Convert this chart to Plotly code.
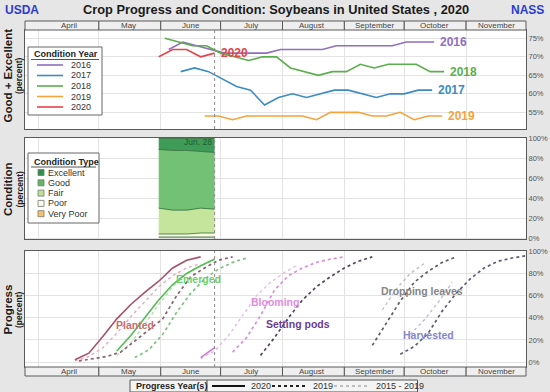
import datetime as _dt
import plotly.graph_objects as go

YEAR = 2020
FONT = "Liberation Sans, Arial, sans-serif"

# ---------------- DATA ----------------
# Condition: Good + Excellent (%)
cond_years = ["2016", "2017", "2018", "2019", "2020"]
cond_colors = ["#8f6fc0", "#3c8cc3", "#5bae4c", "#f5a33a", "#e6434a"]

ge2016_weeks = ["06-05", "06-12", "06-19", "06-26", "07-03", "07-10", "07-17", "07-24", "07-31", "08-07",
                "08-14", "08-21", "08-28", "09-04", "09-11", "09-18", "09-25", "10-02", "10-09", "10-16"]
ge2016 = [72, 74, 73, 72, 71, 71, 71, 71, 72, 72, 72, 72, 73, 73, 73, 73, 73, 74, 74, 74]

ge2017_weeks = ["06-11", "06-18", "06-25", "07-02", "07-09", "07-16", "07-23", "07-30", "08-06", "08-13",
                "08-20", "08-27", "09-03", "09-10", "09-17", "09-24", "10-01", "10-08", "10-15"]
ge2017 = [66, 67, 66, 64, 62, 61, 57, 59, 60, 59, 60, 61, 61, 60, 59, 60, 60, 61, 61]

ge2018_weeks = ["06-03", "06-10", "06-17", "06-24", "07-01", "07-08", "07-15", "07-22", "07-29", "08-05",
                "08-12", "08-19", "08-26", "09-02", "09-09", "09-16", "09-23", "09-30", "10-07", "10-14", "10-21"]
ge2018 = [75, 74, 73, 73, 71, 70, 69, 70, 70, 67, 66, 65, 66, 66, 68, 67, 68, 68, 68, 66, 66]

ge2019_weeks = ["06-23", "06-30", "07-07", "07-14", "07-21", "07-28", "08-04", "08-11", "08-18", "08-25",
                "09-01", "09-08", "09-15", "09-22", "09-29", "10-06", "10-13", "10-20"]
ge2019 = [54, 54, 53, 54, 54, 54, 54, 54, 53, 55, 55, 55, 54, 54, 55, 53, 54, 54]

ge2020_weeks = ["05-31", "06-07", "06-14", "06-21", "06-28"]
ge2020 = [70, 72, 72, 70, 71]

# Condition by type, 2020 (%)
ct_weeks = ["05-31", "06-07", "06-14", "06-21", "06-28"]
ct_names = ["Very Poor", "Poor", "Fair", "Good", "Excellent"]
ct_very_poor = [1, 1, 1, 1, 1]
ct_poor = [3, 3, 3, 4, 4]
ct_fair = [26, 24, 24, 25, 24]
ct_good = [59, 60, 60, 57, 57]
ct_excellent = [11, 12, 12, 13, 14]
ct_fill = ["#f4c36a", "#fbfbe3", "#c5e49c", "#72c174", "#3e9c58"]
ct_swatch = ["#f6c465", "#fafae6", "#bde192", "#62b862", "#2f8f4c"]

# Progress (% of crop) -- 2020 (solid)
planted20_weeks = ["04-19", "04-26", "05-03", "05-10", "05-17", "05-24", "05-31", "06-07", "06-14", "06-21"]
planted20 = [2, 8, 23, 39, 52, 63, 73, 85, 92, 95]
emerged20_weeks = ["05-10", "05-17", "05-24", "05-31", "06-07", "06-14", "06-21", "06-28"]
emerged20 = [10, 24, 40, 56, 70, 80, 87, 93]
bloom20_weeks = ["06-21", "06-28"]
bloom20 = [4, 13]

# Progress -- 2019 (dotted)
planted19_weeks = ["04-21", "04-28", "05-05", "05-12", "05-19", "05-26", "06-02", "06-09", "06-16", "06-23", "06-30", "07-07"]
planted19 = [1, 3, 5, 9, 19, 29, 39, 60, 77, 85, 92, 95]
emerged19_weeks = ["05-19", "05-26", "06-02", "06-09", "06-16", "06-23", "06-30", "07-07", "07-14"]
emerged19 = [4, 11, 25, 45, 62, 75, 84, 90, 94]
bloom19_weeks = ["07-07", "07-14", "07-21", "07-28", "08-04", "08-11", "08-18", "08-25", "09-01"]
bloom19 = [9, 22, 42, 65, 78, 85, 90, 93, 95]
pods19_weeks = ["07-21", "07-28", "08-04", "08-11", "08-18", "08-25", "09-01", "09-08", "09-15"]
pods19 = [6, 22, 40, 56, 68, 77, 85, 91, 95]
drop19_weeks = ["09-15", "09-22", "09-29", "10-06", "10-13", "10-20", "10-27"]
drop19 = [15, 35, 55, 72, 82, 90, 95]
harv19_weeks = ["09-29", "10-06", "10-13", "10-20", "10-27", "11-03", "11-10", "11-17", "11-24", "12-01"]
harv19 = [7, 14, 26, 46, 62, 75, 85, 91, 94, 96]

# Progress -- 2015-2019 average (thin)
plantedavg_weeks = ["04-19", "04-26", "05-03", "05-10", "05-17", "05-24", "05-31", "06-07", "06-14", "06-21"]
plantedavg = [1, 5, 13, 26, 41, 55, 68, 78, 85, 89]
emergedavg_weeks = ["05-10", "05-17", "05-24", "05-31", "06-07", "06-14", "06-21", "06-28"]
emergedavg = [6, 17, 34, 52, 68, 80, 87, 92]
bloomavg_weeks = ["06-21", "06-28", "07-05", "07-12", "07-19", "07-26", "08-02", "08-09"]
bloomavg = [3, 10, 24, 42, 60, 72, 81, 88]
dropavg_weeks = ["09-20", "09-27", "10-04", "10-11"]
dropavg = [47, 66, 80, 89]
harvavg_weeks = ["10-04", "10-11", "10-18", "10-25"]
harvavg = [25, 38, 54, 72]

stage_names = ["Planted", "Emerged", "Blooming", "Setting pods", "Dropping leaves", "Harvested"]
stage_label_dates = ["05-19", "06-20", "07-28", "08-09", "10-10", "10-13"]
stage_label_vals = [33, 75, 54, 34, 64, 24]
stage_label_colors = ["#c86e6e", "#6dcf6d", "#e28be3", "#6b3d8f", "#858585", "#8585cc"]

months = ["April", "May", "June", "July", "August", "September", "October", "November"]
month_starts = ["04-01", "05-01", "06-01", "07-01", "08-01", "09-01", "10-01", "11-01", "12-01"]
current_week = "06-28"
x_range = ["03-25", "12-01"]

# ---------------- HELPERS ----------------
def dts(mds):
    return [f"{YEAR}-{m}" for m in mds]

def dt(md):
    return f"{YEAR}-{md}"

def _d(md):
    m, d = md.split("-")
    return _dt.date(YEAR, int(m), int(d))

_X0, _X1 = _d(x_range[0]), _d(x_range[1])

def dfrac(md):
    return (_d(md) - _X0).days / (_X1 - _X0).days

W, H = 550, 392
ML, MR = 25, 24
PW = W - ML - MR

def fx(px):
    return (px - ML) / PW

def fy(py):
    return 1 - py / H

fig = go.Figure()
shapes = []
annots = []

# ---- Panel 1: condition good+excellent ----
ge_weeks = [ge2016_weeks, ge2017_weeks, ge2018_weeks, ge2019_weeks, ge2020_weeks]
ge_vals = [ge2016, ge2017, ge2018, ge2019, ge2020]
for yr, col, wk, vals in zip(cond_years, cond_colors, ge_weeks, ge_vals):
    fig.add_trace(go.Scatter(x=dts(wk), y=vals, mode="lines", line=dict(color=col, width=1.6),
                             xaxis="x", yaxis="y", showlegend=False, hoverinfo="skip"))
    annots.append(dict(x=dt(wk[-1]), y=vals[-1], xref="x", yref="y", text=f"<b>{yr}</b>",
                       showarrow=False, xanchor="left", yanchor="middle", xshift=4,
                       font=dict(size=12, color=col, family=FONT)))

# ---- Panel 2: condition by type (stacked) ----
ct_vals = [ct_very_poor, ct_poor, ct_fair, ct_good, ct_excellent]
for name, vals, col in zip(ct_names, ct_vals, ct_fill):
    fig.add_trace(go.Scatter(x=dts(ct_weeks), y=vals, stackgroup="cond", mode="lines",
                             line=dict(color="#2f6b34", width=0.8), fillcolor=col,
                             xaxis="x2", yaxis="y2", showlegend=False, hoverinfo="skip", name=name))
annots.append(dict(x=dt(ct_weeks[-1]), y=96.5, xref="x2", yref="y2", text="Jun. 28", showarrow=False,
                   xanchor="right", yanchor="middle", xshift=-1,
                   font=dict(size=8.5, color="#1d5c2c", family=FONT)))

# ---- Panel 3: progress ----
prog_lines = [
    (plantedavg_weeks, plantedavg, "#e2aab6", "dot", 1.3),
    (emergedavg_weeks, emergedavg, "#acdcac", "dot", 1.3),
    (bloomavg_weeks, bloomavg, "#e9b6eb", "dot", 1.3),
    (dropavg_weeks, dropavg, "#bdbdbd", "dot", 1.3),
    (harvavg_weeks, harvavg, "#b8b8e2", "dot", 1.3),
    (planted19_weeks, planted19, "#8c6070", "dot", 1.7),
    (emerged19_weeks, emerged19, "#7fc27f", "dot", 1.7),
    (bloom19_weeks, bloom19, "#d98ee0", "dot", 1.7),
    (pods19_weeks, pods19, "#55465f", "dot", 1.7),
    (drop19_weeks, drop19, "#5f5f5f", "dot", 1.7),
    (harv19_weeks, harv19, "#5d5d78", "dot", 1.7),
    (planted20_weeks, planted20, "#a8506a", "solid", 1.6),
    (emerged20_weeks, emerged20, "#55bb55", "solid", 1.6),
    (bloom20_weeks, bloom20, "#d175d6", "solid", 1.6),
]
for wk, vals, col, dash, w in prog_lines:
    fig.add_trace(go.Scatter(x=dts(wk), y=vals, mode="lines", line=dict(color=col, width=w, dash=dash),
                             xaxis="x3", yaxis="y3", showlegend=False, hoverinfo="skip"))
for name, md, v, col in zip(stage_names, stage_label_dates, stage_label_vals, stage_label_colors):
    annots.append(dict(x=dt(md), y=v, xref="x3", yref="y3", text=f"<b>{name}</b>", showarrow=False,
                       xanchor="center", yanchor="middle", font=dict(size=10.5, color=col, family=FONT)))

# ---------------- AXES ----------------
P1 = (30, 129)
P2 = (138, 239)
P3 = (251, 367)
HDR1 = (21, 30)
HDR3 = (367, 376)

xcommon = dict(type="date", range=[dt(x_range[0]), dt(x_range[1])], showticklabels=False,
               showgrid=True, gridcolor="#e3e3e3", gridwidth=1, tick0=dt("04-01"), dtick="M1",
               showline=True, mirror=True, linecolor="#5a5a5a", linewidth=1, ticks="", zeroline=False,
               domain=[0, 1], fixedrange=True, automargin=False)
ycommon = dict(side="right", showgrid=True, gridcolor="#e3e3e3", showline=True, mirror=True,
               linecolor="#5a5a5a", linewidth=1, ticks="", zeroline=False,
               tickfont=dict(size=7.5, color="#555", family=FONT), fixedrange=True, automargin=False)

p1_ticks = [55, 60, 65, 70, 75]
p23_ticks = [0, 20, 40, 60, 80, 100]

fig.update_layout(
    xaxis=dict(**xcommon, anchor="y"),
    xaxis2=dict(**xcommon, anchor="y2"),
    xaxis3=dict(**xcommon, anchor="y3"),
    yaxis=dict(**ycommon, anchor="x", domain=[fy(P1[1]), fy(P1[0])], range=[50.5, 77.25],
               tickvals=p1_ticks, ticktext=[f"{t}%" for t in p1_ticks]),
    yaxis2=dict(**ycommon, anchor="x2", domain=[fy(P2[1]), fy(P2[0])], range=[-1, 100.5],
                tickvals=p23_ticks, ticktext=[f"{t}%" for t in p23_ticks]),
    yaxis3=dict(**ycommon, anchor="x3", domain=[fy(P3[1]), fy(P3[0])], range=[-4.5, 100.3],
                tickvals=p23_ticks, ticktext=[f"{t}%" for t in p23_ticks]),
)


def ptext(xp, yp, text, size=9, color="#333", xanchor="center", angle=0):
    annots.append(dict(x=fx(xp), y=fy(yp), xref="paper", yref="paper", text=text, showarrow=False,
                       xanchor=xanchor, yanchor="middle", textangle=angle,
                       font=dict(size=size, color=color, family=FONT)))

def pline(x0, y0, x1, y1, color, width=1, dash="solid"):
    shapes.append(dict(type="line", xref="paper", yref="paper", x0=fx(x0), x1=fx(x1), y0=fy(y0), y1=fy(y1),
                       line=dict(color=color, width=width, dash=dash), layer="above"))

def prect(x0, y0, x1, y1, fill, color="#666", width=1):
    shapes.append(dict(type="rect", xref="paper", yref="paper", x0=fx(x0), x1=fx(x1), y0=fy(y1), y1=fy(y0),
                       fillcolor=fill, line=dict(color=color, width=width), layer="above"))

# month header strips
cell_starts = [x_range[0]] + month_starts[1:-1]
cell_ends = month_starts[1:]
mid_days = [m[:3] + "16" for m in month_starts[:-1]]
for (y0, y1) in (HDR1, HDR3):
    for name, s, e, mid in zip(months, cell_starts, cell_ends, mid_days):
        shapes.append(dict(type="rect", xref="paper", yref="paper", x0=dfrac(s), x1=dfrac(e),
                           y0=fy(y1), y1=fy(y0), fillcolor="#efefef", line=dict(color="#5a5a5a", width=1),
                           layer="above"))
        annots.append(dict(x=dfrac(mid), y=fy((y0 + y1) / 2), xref="paper", yref="paper", text=name,
                           showarrow=False, xanchor="center", yanchor="middle",
                           font=dict(size=8, color="#444", family=FONT)))

# current week dotted line
for ax in ("", "2", "3"):
    shapes.append(dict(type="line", xref="x" + ax, yref=f"y{ax} domain", x0=dt(current_week),
                       x1=dt(current_week), y0=0, y1=1, line=dict(color="#8a8a8a", width=1, dash="dot"),
                       layer="above"))

# ---- Condition Year legend ----
prect(28, 47, 102, 115, "white")
ptext(32, 54, "<b>Condition Year</b>", size=9, color="#222", xanchor="left")
pline(31, 59.5, 99, 59.5, "#555")
for i, (yr, col) in enumerate(zip(cond_years, cond_colors)):
    yy = 65 + 10.5 * i
    pline(37, yy, 63, yy, col, 1.6)
    ptext(69, yy, yr, xanchor="left")

# ---- Condition Type legend ----
prect(28, 153, 99, 223, "white")
ptext(31.5, 161.5, "<b>Condition Type</b>", size=9, color="#222", xanchor="left")
pline(31, 167, 96, 167, "#555")
for i, (name, col) in enumerate(zip(ct_names[::-1], ct_swatch[::-1])):
    yy = 172.5 + 10.3 * i
    prect(38, yy - 3, 44, yy + 3, col, "#777", 0.8)
    ptext(46, yy, name, xanchor="left")

# ---- Progress Year(s) legend ----
LY0, LY1, LYC = 380, 392, 386
prect(130, LY0, 417.5, LY1, "#f4f4f4", "#555")
pline(207, LY0, 207, LY1, "#555")
ptext(134, LYC, "<b>Progress Year(s)</b>", size=9, color="#222", xanchor="left")
leg_items = [("2020", 212, 245, 249, "#111", 1.8, "solid"),
             ("2019", 272, 308, 311, "#222", 1.8, "dot"),
             ("2015 - 2019", 334, 370, 374, "#888", 1.0, "dot")]
for txt, a, b, tx, col, w, dash in leg_items:
    pline(a, LYC, b, LYC, col, w, dash)
    ptext(tx, LYC, txt, xanchor="left")

# ---- Titles ----
ptext(276, 9.5, "<b>Crop Progress and Condition: Soybeans in United States , 2020</b>", size=12.8, color="#1a1a1a")
ptext(3, 9.5, "<b>USDA</b>", size=12, color="#2a3cd2", xanchor="left")
ptext(546, 9.5, "<b>NASS</b>", size=12, color="#2a3cd2", xanchor="right")

for big, (a, b) in (("Good + Excellent", (21, 129)), ("Condition", P2), ("Progress", P3)):
    yc = (a + b) / 2 + 1
    ptext(7.5, yc, f"<b>{big}</b>", size=11.5, color="#1a1a1a", angle=-90)
    ptext(19, yc, "<b>(percent)</b>", size=8.5, color="#1a1a1a", angle=-90)

fig.layout.shapes = shapes
fig.layout.annotations = annots
fig.update_layout(
    width=W, height=H, autosize=False,
    margin=dict(l=ML, r=MR, t=0, b=0, pad=0, autoexpand=False),
    paper_bgcolor="#e6e6e6", plot_bgcolor="white",
    showlegend=False,
    font=dict(family=FONT),
)

fig.write_html("out.html", config={"displayModeBar": False, "staticPlot": True},
               post_script="document.body.style.margin='0';document.body.style.overflow='hidden';")
